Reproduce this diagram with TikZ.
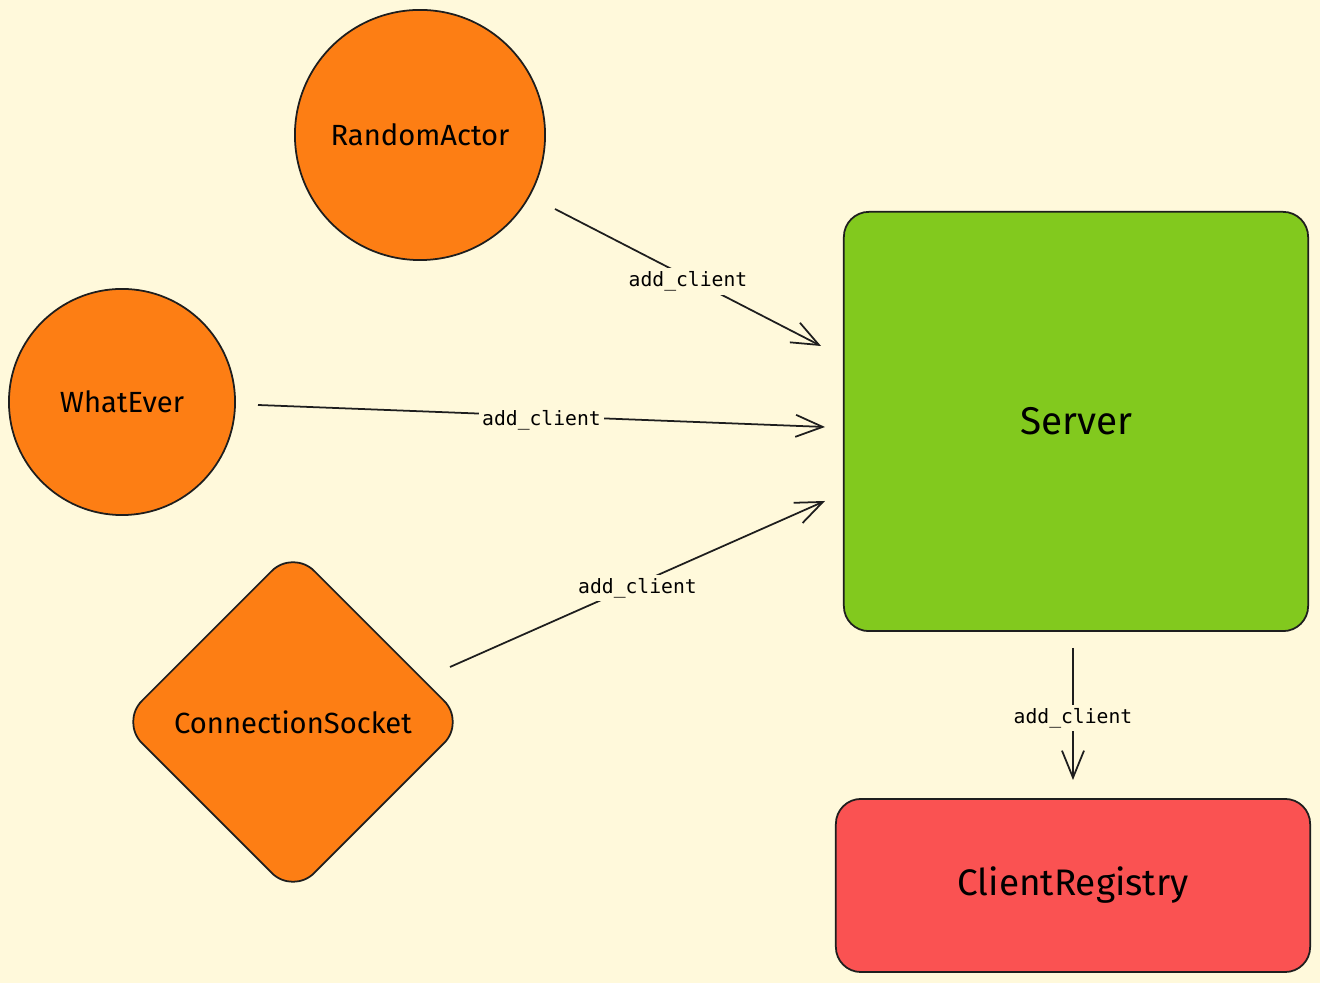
\documentclass[tikz,border=0pt]{standalone}
\usepackage{fontspec}
\setmainfont{Fira Sans}
\newfontfamily\labelfont{DejaVu Sans Mono}
\usetikzlibrary{shapes.geometric,arrows.meta}
\definecolor{paper}{HTML}{FFF9DB}
\definecolor{actor}{HTML}{FD7E14}
\definecolor{servergreen}{HTML}{82C91E}
\definecolor{registryred}{HTML}{FA5252}
\definecolor{ink}{HTML}{1E1E1E}
\begin{document}
\begin{tikzpicture}[x=0.01cm, y=-0.01cm,
  actorbox/.style={draw=ink, line width=0.5pt, fill=actor, text=black, font=\fontsize{8.3}{10}\selectfont},
  callarrow/.style={draw=ink, line width=0.5pt, -{Straight Barb[length=0.27cm, width=0.22cm]}},
  calllabel/.style={fill=paper, inner sep=1pt, yshift=-0.04cm, text=black, font=\labelfont\fontsize{5.6}{7}\selectfont}]
\fill [paper] (0,0) rectangle (1320,983);
\useasboundingbox (0,0) rectangle (1320,983);

\node [actorbox, circle, minimum size=2.5cm] (random) at (420,135) {RandomActor};
\node [actorbox, circle, minimum size=2.26cm] (whatever) at (122,402) {WhatEver};
\node [actorbox, diamond, minimum size=3.45cm, rounded corners=0.3cm] (socket) at (293,722) {ConnectionSocket};

\node [draw=ink, line width=0.5pt, fill=servergreen, rounded corners=0.25cm, minimum width=4.64cm, minimum height=4.19cm, font=\fontsize{11}{13}\selectfont] (server) at (1076,421.5) {Server};
\node [draw=ink, line width=0.5pt, fill=registryred, rounded corners=0.25cm, minimum width=4.74cm, minimum height=1.73cm, font=\fontsize{10.5}{13}\selectfont] (registry) at (1073,885.5) {ClientRegistry};

\coordinate (random-out) at (555,209);
\coordinate (random-in) at (821,346);
\coordinate (whatever-out) at (258,405);
\coordinate (whatever-in) at (825,427);
\coordinate (socket-out) at (450,667);
\coordinate (socket-in) at (825,501);
\coordinate (server-out) at (1073,648);
\coordinate (registry-in) at (1073,780);

\draw [callarrow] (random-out) -- (random-in) node [calllabel, midway] {add\_client};
\draw [callarrow] (whatever-out) -- (whatever-in) node [calllabel, midway] {add\_client};
\draw [callarrow] (socket-out) -- (socket-in) node [calllabel, midway] {add\_client};
\draw [callarrow] (server-out) -- (registry-in) node [calllabel, midway] {add\_client};

\end{tikzpicture}
\end{document}
